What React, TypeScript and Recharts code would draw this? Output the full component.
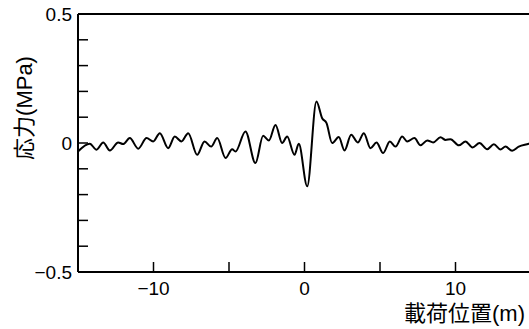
import { LineChart, Line, XAxis, YAxis, ReferenceLine } from 'recharts';

// 載荷位置 (m)
const positions = [
  -15, -14.22, -13.77, -13.33, -12.89, -12.34, -12.01, -11.57, -11.01, -10.46,
  -10.02, -9.58, -9.03, -8.59, -8.15, -7.7, -7.11, -6.62, -6.18, -5.78,
  -5.23, -4.79, -4.57, -3.91, -3.25, -2.74, -2.36, -1.92, -1.48, -1.15,
  -0.66, -0.38, 0.18, 0.79, 1.17, 1.46, 1.83, 2.27, 2.65, 3.09,
  3.53, 3.93, 4.37, 4.77, 5.21, 5.65, 6.03, 6.47, 6.8, 7.28,
  7.68, 8.13, 8.52, 9.01, 9.34, 9.67, 10.22, 10.66, 11.13, 11.59,
  12.1, 12.54, 12.98, 13.31, 13.75, 14.19, 14.85, 15,
];

// 応力 (MPa)
const stress = [
  -0.033, -0.003, -0.026, 0.002, -0.029, 0.002, -0.004, 0.019, -0.022, 0.019,
  0.006, 0.038, -0.02, 0.025, 0.006, 0.038, -0.046, 0.006, -0.014, 0.019,
  -0.058, -0.024, -0.033, 0.045, -0.078, 0.028, 0.01, 0.07, 0.0, 0.025,
  -0.046, -0.003, -0.168, 0.161, 0.096, 0.077, 0.0, 0.023, -0.029, 0.032,
  0.002, 0.038, -0.02, 0.002, -0.039, 0.006, -0.014, 0.025, 0.006, 0.019,
  -0.009, 0.01, 0.002, 0.022, 0.012, 0.015, -0.009, 0.006, -0.017, 0.0,
  -0.024, -0.005, -0.025, -0.014, -0.03, -0.014, -0.003, 0.0,
];

const xTicks = [-10, -5, 0, 5, 10];
const xTickLabels = ['−10', '', '0', '', '10'];
const yTicks = [-0.5, -0.4, -0.3, -0.2, -0.1, 0, 0.1, 0.2, 0.3, 0.4, 0.5];
const yTickLabels: Record<string, string> = { '-0.5': '−0.5', '0': '0', '0.5': '0.5' };

const data = positions.map((x, i) => ({ x, stress: stress[i] }));

const font = "'Liberation Sans', Arial, 'Noto Sans CJK JP', sans-serif";

const XTick = (props: any) => {
  const { x, y, payload } = props;
  const label = xTickLabels[xTicks.indexOf(payload.value)];
  return (
    <g>
      <line x1={x} y1={y} x2={x} y2={y - 10} stroke="#000" strokeWidth={1.5} />
      {label && (
        <text x={x} y={y + 23} textAnchor="middle" fontSize={19} fontFamily={font} fill="#000">
          {label}
        </text>
      )}
    </g>
  );
};

const YTick = (props: any) => {
  const { x, y, payload } = props;
  const label = yTickLabels[String(payload.value)];
  return (
    <g>
      <line x1={x} y1={y} x2={x + 10} y2={y} stroke="#000" strokeWidth={1.5} />
      {label && (
        <text x={x - 6} y={y + 7} textAnchor="end" fontSize={19} fontFamily={font} fill="#000">
          {label}
        </text>
      )}
    </g>
  );
};

export default function App() {
  return (
    <div style={{ position: 'absolute', left: 0, top: 0, width: 529, height: 329, overflow: 'hidden', background: '#fff' }}>
      <LineChart width={535} height={329} data={data} margin={{ top: 14, right: 4, left: 0, bottom: 0 }}>
        <XAxis
          dataKey="x"
          type="number"
          domain={[-15, 15]}
          ticks={xTicks}
          allowDataOverflow
          height={57}
          tickSize={0}
          tickMargin={0}
          tickLine={false}
          axisLine={{ stroke: '#000', strokeWidth: 2 }}
          tick={<XTick />}
          label={{
            content: (p: any) => (
              <text
                x={p.viewBox.x + p.viewBox.width - 6}
                y={p.viewBox.y + 49}
                textAnchor="end"
                fontSize={22}
                fontFamily={font}
                fill="#000"
              >
                載荷位置(m)
              </text>
            ),
          }}
        />
        <YAxis
          type="number"
          domain={[-0.5, 0.5]}
          ticks={yTicks}
          allowDataOverflow
          width={78}
          tickSize={0}
          tickMargin={0}
          tickLine={false}
          axisLine={{ stroke: '#000', strokeWidth: 2 }}
          tick={<YTick />}
          label={{
            content: (p: any) => {
              const cx = p.viewBox.x + 24;
              const cy = p.viewBox.y + p.viewBox.height / 2 - 35;
              return (
                <text
                  x={cx}
                  y={cy}
                  transform={`rotate(-90 ${cx} ${cy})`}
                  textAnchor="middle"
                  dominantBaseline="central"
                  fontSize={22}
                  fontFamily={font}
                  fill="#000"
                >
                  応力(MPa)
                </text>
              );
            },
          }}
        />
        <ReferenceLine y={0.5} stroke="#000" strokeWidth={2} ifOverflow="visible" />
        <Line
          type="monotone"
          dataKey="stress"
          stroke="#000"
          strokeWidth={2}
          dot={false}
          isAnimationActive={false}
        />
      </LineChart>
    </div>
  );
}
